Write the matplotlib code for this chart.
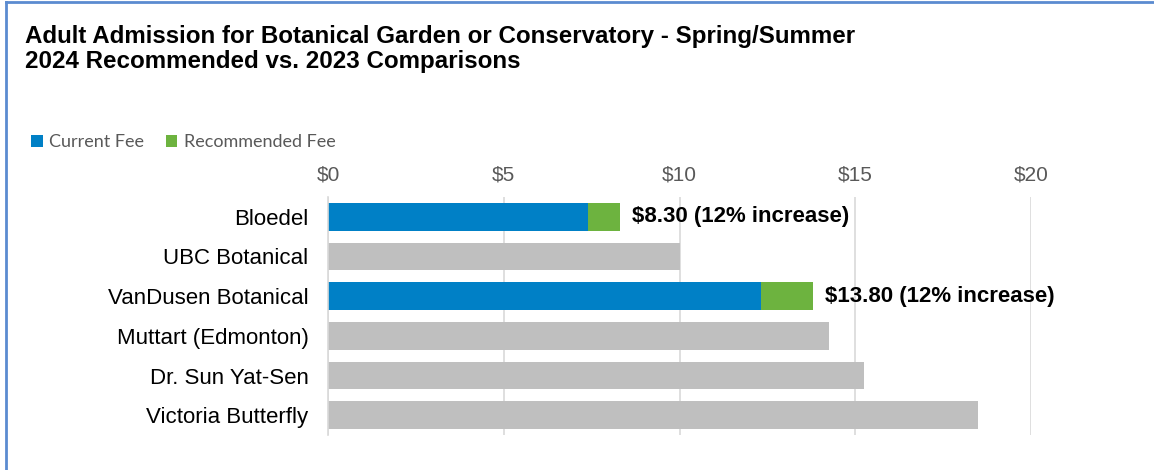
import matplotlib
matplotlib.use("Agg")
import matplotlib.pyplot as plt
from matplotlib.patches import Patch
from matplotlib.lines import Line2D

# ---- data ----
categories = ["Bloedel", "UBC Botanical", "VanDusen Botanical",
              "Muttart (Edmonton)", "Dr. Sun Yat-Sen", "Victoria Butterfly"]
current_fee = [7.41, 0, 12.32, 0, 0, 0]
recommended_fee = [8.30, 0, 13.80, 0, 0, 0]
comparison_fee = [0, 10.00, 0, 14.25, 15.25, 18.50]
bar_labels = ["$8.30 (12% increase)", "", "$13.80 (12% increase)", "", "", ""]
xticks = [0, 5, 10, 15, 20]
xtick_labels = ["$0", "$5", "$10", "$15", "$20"]
title = ("Adult Admission for Botanical Garden or Conservatory - Spring/Summer\n"
         "2024 Recommended vs. 2023 Comparisons")

BLUE = "#0080C6"
GREEN = "#6DB33F"
GRAY = "#BFBFBF"
FONT = "Liberation Sans"

W, H = 1154, 470
fig = plt.figure(figsize=(W / 100, H / 100), dpi=100)
fig.patch.set_facecolor("white")

ax = fig.add_axes([328 / W, 1 - 435 / H, (1031 - 328) / W, (435 - 197) / H])

y = list(range(len(categories)))
inc = [r - c for r, c in zip(recommended_fee, current_fee)]
ax.barh(y, current_fee, height=0.7, color=BLUE, zorder=3)
ax.barh(y, inc, left=current_fee, height=0.7, color=GREEN, zorder=3)
ax.barh(y, comparison_fee, height=0.7, color=GRAY, zorder=3)

for yi, val, lab in zip(y, recommended_fee, bar_labels):
    if lab:
        ax.annotate(lab, xy=(val, yi), xytext=(12, 0), textcoords="offset pixels",
                    ha="left", va="center", fontsize=16, fontweight="bold",
                    family=FONT, color="black", annotation_clip=False, zorder=5)

ax.set_xlim(0, 20)
ax.set_ylim(len(categories) - 0.5, -0.5)
ax.set_yticks(y)
ax.set_yticklabels(categories, family=FONT, fontsize=16, color="black")
ax.set_xticks(xticks)
ax.set_xticklabels(xtick_labels, family=FONT, fontsize=15, color="#595959")
ax.xaxis.tick_top()
ax.tick_params(axis="x", length=0, pad=9)
ax.tick_params(axis="y", length=0, pad=14)
ax.grid(axis="x", color="#D9D9D9", linewidth=1.2, zorder=0)
for s in ["top", "right", "bottom"]:
    ax.spines[s].set_visible(False)
ax.spines["left"].set_color("#D9D9D9")
ax.spines["left"].set_linewidth(1.2)
ax.spines["left"].set_zorder(4)

# title
fig.text(25 / W, 1 - 25 / H, title, ha="left", va="top", fontsize=17.4,
         fontweight="bold", family=FONT, color="black", linespacing=1.1)

# legend
handles = [Patch(facecolor=BLUE, edgecolor="none", label="Current Fee"),
           Patch(facecolor=GREEN, edgecolor="none", label="Recommended Fee")]
leg = fig.legend(handles=handles, loc="upper left",
                 bbox_to_anchor=(31 / W, 1 - 134 / H), ncol=2, frameon=False,
                 borderpad=0, borderaxespad=0, handlelength=0.65, handleheight=0.65,
                 handletextpad=0.35, columnspacing=1.2,
                 prop={"family": "Lato", "size": 13})
for t in leg.get_texts():
    t.set_color("#595959")

# outer border (left and top)
BORDER = "#5B8BD0"
fig.add_artist(Line2D([6 / W, 6 / W], [0, 1 - 2 / H], color=BORDER, linewidth=2,
                      transform=fig.transFigure))
fig.add_artist(Line2D([6 / W, 1], [1 - 2 / H, 1 - 2 / H], color=BORDER, linewidth=2,
                      transform=fig.transFigure))

fig.savefig("out.png", dpi=100, facecolor="white")
